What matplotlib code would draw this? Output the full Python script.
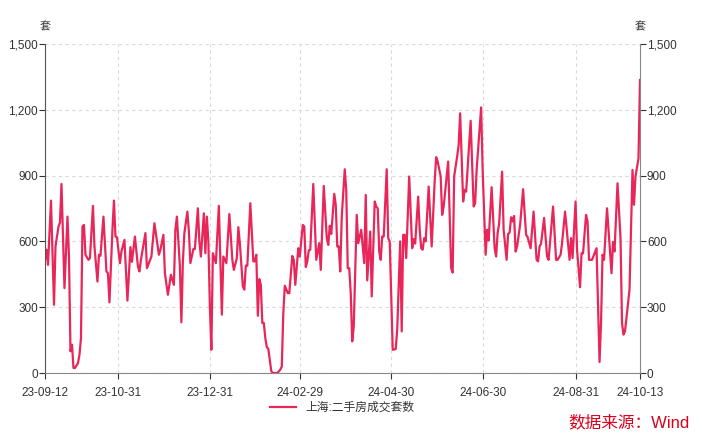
import matplotlib
matplotlib.use("Agg")
import matplotlib.pyplot as plt
import matplotlib.dates as mdates
import pandas as pd

plt.rcParams['font.family'] = ['Liberation Sans', 'Noto Sans CJK SC', 'DejaVu Sans']

# days after 2023-09-12 and the volume (sets)
start = pd.Timestamp("2023-09-12")
day_offset = [
    0, 1, 2, 4, 6, 7, 8, 9, 10, 11, 13, 15, 16, 17, 18, 19, 20, 22, 23, 24,
    25, 26, 27, 29, 30, 32, 33, 35, 36, 37, 39, 41, 42, 43, 45, 46, 47, 48, 50, 51,
    53, 55, 57, 58, 60, 62, 63, 64, 67, 68, 71, 73, 76, 77, 79, 80, 82, 84, 86, 87,
    88, 90, 91, 92, 93, 95, 96, 97, 99, 100, 102, 103, 104, 106, 107, 108, 109, 110, 111, 112,
    114, 116, 118, 119, 121, 123, 125, 126, 128, 129, 130, 132, 133, 134, 135, 137, 139, 140, 141, 142,
    143, 144, 145, 146, 147, 148, 149, 151, 152, 155, 157, 158, 159, 160, 162, 163, 165, 166, 167, 169,
    170, 172, 173, 174, 175, 176, 177, 179, 181, 183, 184, 186, 188, 189, 190, 191, 193, 194, 195, 196,
    197, 198, 200, 201, 202, 203, 204, 205, 206, 208, 209, 211, 213, 214, 215, 217, 218, 220, 221, 222,
    223, 224, 225, 226, 228, 229, 230, 232, 234, 235, 237, 238, 239, 240, 241, 243, 245, 246, 247, 249,
    250, 251, 252, 253, 254, 256, 258, 260, 261, 262, 264, 265, 266, 269, 271, 272, 273, 275, 276, 277,
    279, 280, 281, 284, 286, 287, 288, 291, 292, 294, 295, 296, 298, 300, 301, 302, 303, 305, 306, 308,
    309, 310, 311, 312, 313, 314, 315, 317, 319, 321, 322, 324, 326, 328, 329, 330, 331, 333, 335, 336,
    339, 341, 342, 344, 345, 347, 350, 351, 352, 354, 355, 357, 358, 359, 361, 362, 363, 365, 368, 370,
    371, 372, 373, 375, 376, 378, 379, 380, 382, 384, 385, 386, 387, 390, 392, 393, 394, 396, 397,
]
volume = [
    516, 562, 493, 786, 311, 577, 622, 668, 686, 862, 387, 713, 531, 99, 129, 23, 23, 45, 83, 159,
    668, 675, 539, 516, 524, 762, 577, 417, 539, 534, 713, 463, 455, 322, 653, 786, 622, 619, 501, 554,
    607, 330, 574, 507, 622, 486, 463, 516, 638, 478, 531, 683, 539, 562, 630, 455, 357, 448, 402, 653,
    713, 486, 231, 509, 638, 736, 645, 501, 565, 565, 751, 600, 531, 728, 546, 713, 600, 304, 106, 546,
    501, 762, 266, 531, 501, 725, 516, 470, 524, 665, 592, 395, 380, 489, 489, 774, 509, 509, 539, 261,
    428, 402, 228, 228, 159, 118, 110, 8, 0, 0, 15, 30, 273, 398, 364, 364, 534, 515, 402, 569,
    531, 675, 668, 483, 509, 559, 562, 862, 516, 592, 470, 853, 615, 584, 671, 634, 817, 767, 577, 577,
    463, 713, 929, 835, 478, 478, 364, 144, 213, 721, 592, 653, 501, 812, 422, 645, 349, 782, 759, 751,
    554, 516, 622, 622, 929, 615, 600, 106, 109, 197, 600, 190, 630, 630, 524, 896, 569, 610, 590, 804,
    653, 569, 562, 615, 600, 850, 577, 873, 984, 964, 896, 721, 759, 964, 478, 458, 896, 987, 1040, 1184,
    782, 835, 827, 1150, 759, 774, 926, 1211, 926, 539, 653, 604, 847, 569, 531, 638, 680, 918, 653, 516,
    634, 640, 710, 691, 716, 554, 577, 675, 838, 630, 620, 569, 736, 516, 509, 577, 590, 707, 531, 516,
    759, 516, 516, 539, 592, 736, 516, 615, 524, 782, 562, 391, 546, 546, 721, 691, 516, 516, 569, 50,
    228, 539, 516, 751, 653, 455, 597, 554, 865, 615, 228, 175, 190, 380, 926, 767, 896, 979, 1336,
]
tick_dates = ["2023-09-12", "2023-10-31", "2023-12-31", "2024-02-29",
              "2024-04-30", "2024-06-30", "2024-08-31", "2024-10-13"]
y_ticks = [0, 300, 600, 900, 1200, 1500]
series_name = "上海:二手房成交套数"
unit = "套"
source_text = "数据来源：Wind"

dates = start + pd.to_timedelta(day_offset, unit="D")
ticks = pd.to_datetime(tick_dates)

fig = plt.figure(figsize=(7.02, 4.48), dpi=100)
ax = fig.add_axes([45 / 702, 1 - 373 / 448, 595 / 702, 329 / 448])

ax.plot(dates, volume, color="#E8265A", lw=1.6, label=series_name)

ax.set_xlim(ticks[0], ticks[-1])
ax.set_ylim(0, 1500)
ax.set_yticks(y_ticks)
ax.set_yticklabels([f"{v:,}" for v in y_ticks])
ax.set_xticks(ticks)
ax.set_xticklabels([t.strftime("%y-%m-%d") for t in ticks])
ax.grid(True, color="#d9d9d9", ls=(0, (3, 3)), lw=0.8)

ax.spines["top"].set_visible(False)
ax.spines["left"].set_color("#555555")
ax.spines["right"].set_color("#888888")
ax.spines["bottom"].set_color("#888888")
ax.tick_params(axis="both", labelsize=8.5, colors="#333333", length=4, width=0.8)
ax.tick_params(axis="y", left=True, right=True, labelleft=True, labelright=True, pad=1)
ax.tick_params(axis="x", pad=6)

ax.text(0, 1.035, unit, transform=ax.transAxes, ha="center", va="bottom", fontsize=8, color="#333333")
ax.text(1, 1.035, unit, transform=ax.transAxes, ha="center", va="bottom", fontsize=8, color="#333333")

ax.legend(loc="upper center", bbox_to_anchor=(0.5, -0.055), frameon=False,
          fontsize=8.5, handlelength=2.2, labelcolor="#333333")

fig.text(690 / 702, 1 - 422 / 448, source_text, ha="right", va="center",
         fontsize=12, color="#D9001B")

fig.savefig("out.png", dpi=100)
